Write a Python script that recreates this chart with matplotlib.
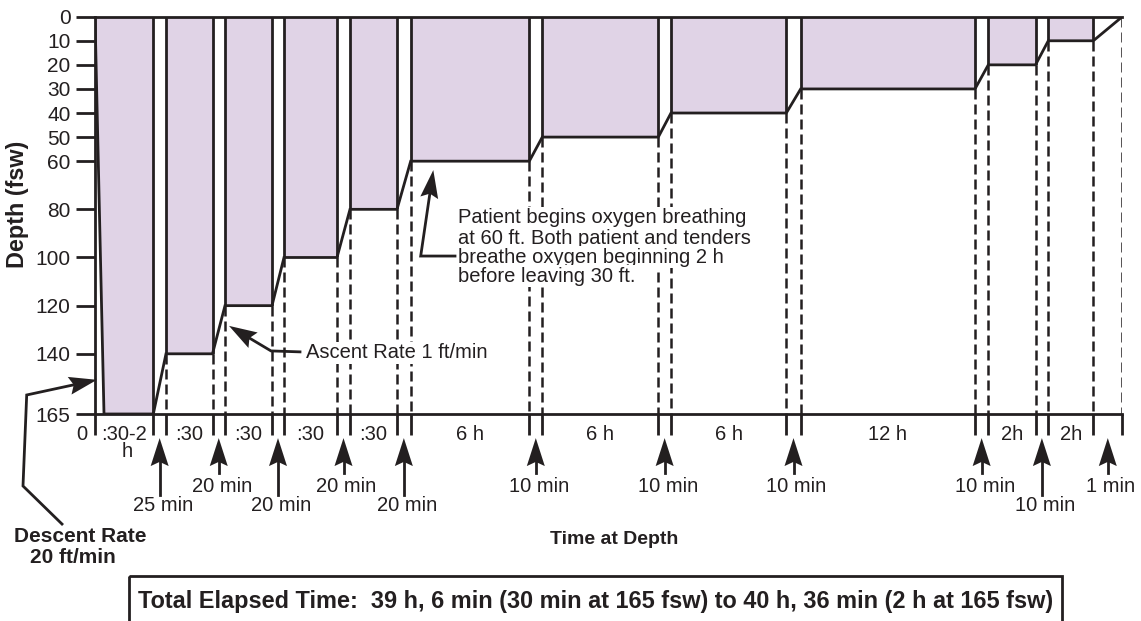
import matplotlib
matplotlib.use("Agg")
import matplotlib.pyplot as plt
import numpy as np
from matplotlib.patches import Polygon, Rectangle

plt.rcParams['font.family'] = ['Liberation Sans', 'DejaVu Sans']

# ---------------- data ----------------
stop_depths = [165, 140, 120, 100, 80, 60, 50, 40, 30, 20, 10]
stop_labels = [":30-2", ":30", ":30", ":30", ":30", "6 h", "6 h", "6 h", "12 h", "2h", "2h"]
travel_labels = ["25 min", "20 min", "20 min", "20 min", "20 min", "10 min",
                 "10 min", "10 min", "10 min", "10 min", "1 min"]
travel_label_low = [True, False, True, False, True, False, False, False, False, True, False]
# schematic (not-to-scale) widths along the time axis
descent_width = 9
stop_widths = [49.3, 46.5, 47, 53, 47, 118.6, 116, 115.3, 174.3, 47.2, 45]
travel_widths = [12.7, 12.5, 12, 13, 13.7, 13, 12.7, 14.4, 13.3, 12.8, 29]
y_ticks = [0, 10, 20, 30, 40, 50, 60, 80, 100, 120, 140, 165]
patient_note = ["Patient begins oxygen breathing",
                "at 60 ft. Both patient and tenders",
                "breathe oxygen beginning 2 h",
                "before leaving 30 ft."]

INK = '#231f20'
FILL = '#e0d3e6'
LW = 2.0
WHITE_BOX = dict(facecolor='white', edgecolor='none', pad=1.0)

# ---------------- layout of stops ----------------
lefts, rights = [], []
x = 0.0
for i, w in enumerate(stop_widths):
    lefts.append(x)
    x += w + (descent_width if i == 0 else 0)
    rights.append(x)
    x += travel_widths[i]
x_end = x

fig = plt.figure(figsize=(11.41, 6.21), dpi=100)
ax = fig.add_axes([95/1141, 1-414/621, x_end/1141, (414-16.7)/621])
ax.set_xlim(0, x_end)
ax.set_ylim(165, 0)
ax.patch.set_visible(False)

ax.spines['right'].set_visible(False)
for s in ['top', 'bottom', 'left']:
    ax.spines[s].set_linewidth(LW)
    ax.spines[s].set_color(INK)
ax.set_xticks([])
ax.set_yticks(y_ticks)
ax.set_yticklabels([str(t) for t in y_ticks])
ax.tick_params(axis='y', length=13.5, width=LW, pad=4, labelsize=15,
               colors=INK, labelcolor=INK)

# fills
for i, d in enumerate(stop_depths):
    if i == 0:
        pts = [(lefts[0], 0), (lefts[0] + descent_width, d), (rights[0], d), (rights[0], 0)]
    else:
        pts = [(lefts[i], 0), (lefts[i], d), (rights[i], d), (rights[i], 0)]
    ax.add_patch(Polygon(pts, closed=True, facecolor=FILL, edgecolor='none', zorder=1))

# profile line
px = [lefts[0], lefts[0] + descent_width]
py = [0, stop_depths[0]]
for i, d in enumerate(stop_depths):
    if i > 0:
        px.append(lefts[i]); py.append(d)
    px.append(rights[i]); py.append(d)
px.append(x_end); py.append(0)
ax.plot(px, py, color=INK, lw=LW, zorder=3, solid_joinstyle='miter')

# vertical solid edges and dashed drop lines
for i, d in enumerate(stop_depths):
    edges = [rights[i]] if i == 0 else [lefts[i], rights[i]]
    for e in edges:
        ax.plot([e, e], [0, d], color=INK, lw=LW, zorder=3, solid_capstyle='butt')
        if d < 165:
            ax.plot([e, e], [d, 165], color=INK, lw=1.8, dashes=(4, 2), zorder=2)
ax.plot([x_end, x_end], [0, 165], color=INK, lw=1.8, dashes=(4, 2), zorder=2)

# ticks below the time axis
tick_x = [0] + [v for pair in zip(lefts[1:], rights[1:]) for v in pair] + [rights[0], x_end]
for tx in tick_x:
    ax.plot([tx, tx], [165, 173.7], color=INK, lw=LW, clip_on=False, solid_capstyle='butt')

# stop duration labels
ax.text(-13.3, 175.8, "0", ha='center', va='baseline', fontsize=14.5, color=INK, clip_on=False)
for i, lab in enumerate(stop_labels):
    cx = (lefts[i] + rights[i]) / 2
    ax.text(cx, 175.8, lab, ha='center', va='baseline', fontsize=14.5, color=INK, clip_on=False)
ax.text((lefts[0] + rights[0]) / 2 + 3, 183, "h", ha='center', va='baseline',
        fontsize=14.5, color=INK, clip_on=False)


def arrow(points, head_len=28, half_w=9, notch=0.15):
    """polyline in data coords ending with a filled arrowhead at the last point"""
    T = ax.transData
    P = T.transform(np.array(points, dtype=float))
    tip, prev = P[-1], P[-2]
    d = tip - prev
    d = d / np.hypot(*d)
    n = np.array([-d[1], d[0]])
    base = tip - d * head_len
    notch_pt = tip - d * head_len * (1 - notch)
    head = np.array([tip, base + n * half_w, notch_pt, base - n * half_w])
    line = np.vstack([P[:-1], notch_pt])
    L = T.inverted().transform(line)
    H = T.inverted().transform(head)
    ax.plot(L[:, 0], L[:, 1], color=INK, lw=LW, clip_on=False, zorder=4,
            solid_joinstyle='miter')
    ax.add_patch(Polygon(H, closed=True, facecolor=INK, edgecolor='none',
                         clip_on=False, zorder=4))


# travel-time arrows
ends = lefts[1:] + [x_end]
for j, lab in enumerate(travel_labels):
    mx = (rights[j] + ends[j]) / 2
    low = travel_label_low[j]
    tail = 198.6 if low else 189.5
    arrow([(mx, tail), (mx, 175.0)])
    ax.text(mx + 3, 205.1 if low else 197.3, lab, ha='center', va='baseline',
            fontsize=14.5, color=INK, clip_on=False)

# annotations
arrow([(205, 139.2), (176, 138.8), (134, 128.4)])
ax.text(211, 141.9, "Ascent Rate 1 ft/min", ha='left', va='baseline', fontsize=14.5,
        color=INK, bbox=WHITE_BOX, zorder=5)

arrow([(360, 99.4), (325.7, 99.4), (338.3, 63.7)])
for k, line in enumerate(patient_note):
    ax.text(363.3, [85.8, 94.4, 102.2, 110.0][k], line, ha='left', va='baseline',
            fontsize=14.5, color=INK, bbox=WHITE_BOX, zorder=5)

arrow([(-33, 210.7), (-72, 194.9), (-68.3, 157.1), (2, 150.8)])
ax.text(-15, 218.0, "Descent Rate", ha='center', va='baseline', fontsize=15,
        fontweight='bold', color=INK, clip_on=False)
ax.text(-22, 227.0, "20 ft/min", ha='center', va='baseline', fontsize=15,
        fontweight='bold', color=INK, clip_on=False)

ax.text(519, 219.0, "Time at Depth", ha='center', va='baseline', fontsize=14,
        fontweight='bold', color=INK, clip_on=False)

fig.text(18/1141, 1 - 204/621, "Depth (fsw)", rotation=90, ha='center', va='center',
         fontsize=16.8, fontweight='bold', color=INK)

ax.add_patch(Rectangle((34, 232.3), 933, 30, facecolor='none', edgecolor=INK,
                       lw=LW, clip_on=False))
ax.text(43, 245.7,
        "Total Elapsed Time:  39 h, 6 min (30 min at 165 fsw) to 40 h, 36 min (2 h at 165 fsw)",
        ha='left', va='baseline', fontsize=16.9, fontweight='bold', color=INK, clip_on=False)

fig.savefig("out.png", dpi=100, facecolor='white')
